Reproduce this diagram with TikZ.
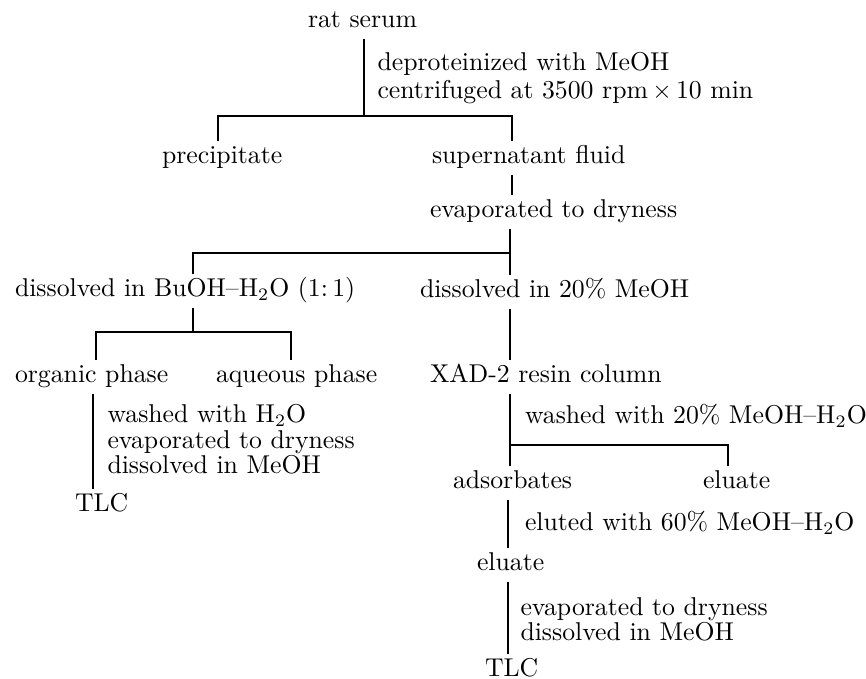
\documentclass[tikz,border=0pt]{standalone}
\usepackage{amsmath}
\usepackage{amssymb}

\tikzset{
    item/.style={anchor=mid west, inner sep=0pt, outer sep=2pt, text height=7pt, text depth=2.5pt},
    note/.style={anchor=north west, inner sep=0pt, align=left},
    link/.style={line width=0.6pt}
}

\begin{document}
\begin{tikzpicture}[x=0.4pt, y=-0.4pt, every node/.style={font=\fontsize{10.3}{10.2}\selectfont}]
            \useasboundingbox (0, 0) rectangle (866, 679);

            \node[item] (serum) at (303, 22){rat serum};
            \node[note] (deprot) at (377, 52){deproteinized with MeOH\\[0.8pt]centrifuged at 3500 rpm\,$\times$\,10 min};
            \node[item] (precip) at (157, 158){precipitate};
            \node[item] (super) at (427, 158){supernatant fluid};
            \node[item] (evap) at (425, 212){evaporated to dryness};
            \node[item] (buoh) at (10, 291){dissolved in BuOH--H$_2$O (1:\,1)};
            \node[item] (meoh) at (415, 292){dissolved in 20\% MeOH};
            \node[item] (organic) at (10, 377){organic phase};
            \node[item] (aqueous) at (211, 377){aqueous phase};
            \node[item] (xad) at (425, 377){XAD-2 resin column};
            \node[note] (washleft) at (107, 404){washed with H$_2$O\\evaporated to dryness\\dissolved in MeOH};
            \node[item] (tlcleft) at (70, 506){TLC};
            \node[item] (washright) at (520, 418){washed with 20\% MeOH--H$_2$O};
            \node[item] (adsorb) at (448, 483){adsorbates};
            \node[item] (eluateone) at (698, 483){eluate};
            \node[item] (eluted) at (520, 525){eluted with 60\% MeOH--H$_2$O};
            \node[item] (eluatetwo) at (472, 565){eluate};
            \node[note] (evapright) at (520, 597){evaporated to dryness\\dissolved in MeOH};
            \node[item] (tlcright) at (480, 671){TLC};

            \coordinate (splitserum) at (364, 116);
            \coordinate (colsuper) at (512, 116);
            \coordinate (splitevap) at (510, 253);
            \coordinate (splitbuoh) at (193, 332);
            \coordinate (colorganic) at (96, 332);
            \coordinate (colaqueous) at (291, 332);
            \coordinate (coltlc) at (93, 0);
            \coordinate (splitxad) at (510, 445);
            \coordinate (coleluate) at (728, 445);
            \coordinate (coladsorb) at (508, 0);

            \draw[link] (serum.south -| splitserum) -- (splitserum);
            \draw[link] (precip.north -| 218, 0) |- (colsuper) -- (super.north -| colsuper);
            \draw[link] (super.south -| colsuper) -- (evap.north -| colsuper);

            \draw[link] (evap.south -| splitevap) -- (meoh.north -| splitevap);
            \draw[link] (splitevap) -| (buoh.north -| splitbuoh);
            \draw[link] (buoh.south -| splitbuoh) -- (splitbuoh);
            \draw[link] (organic.north -| colorganic) |- (colaqueous) -- (aqueous.north -| colaqueous);
            \draw[link] (organic.south -| coltlc) -- (tlcleft.north -| coltlc);

            \draw[link] (meoh.south -| splitevap) -- (xad.north -| splitevap);
            \draw[link] (xad.south -| splitxad) -- (adsorb.north -| splitxad);
            \draw[link] (splitxad) -- (coleluate) -- (eluateone.north -| coleluate);
            \draw[link] (adsorb.south -| coladsorb) -- (eluatetwo.north -| coladsorb);
            \draw[link] (eluatetwo.south -| coladsorb) -- (tlcright.north -| coladsorb);
        \end{tikzpicture}
\end{document}
